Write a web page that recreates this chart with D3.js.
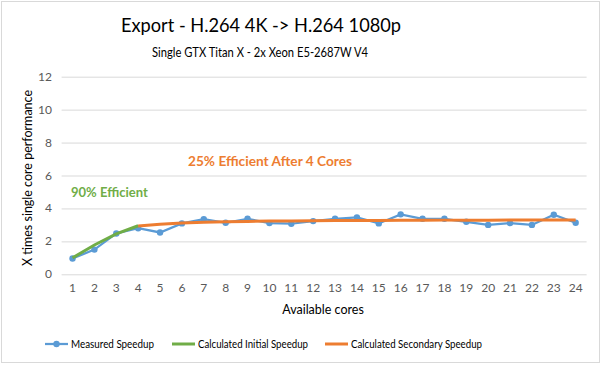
<!DOCTYPE html>
<html>
<head>
<meta charset="utf-8">
<script src="https://cdn.jsdelivr.net/npm/d3@7"></script>
<style>
  body { margin: 0; background: #fff; }
  text { font-family: Lato, "Open Sans", sans-serif; }
</style>
</head>
<body>
<div id="chart"></div>
<script>
const cores = d3.range(1, 25)
const measured = [0.96, 1.5, 2.48, 2.8, 2.54, 3.09, 3.35, 3.13, 3.37, 3.11, 3.07, 3.23,
                  3.37, 3.46, 3.09, 3.64, 3.37, 3.37, 3.19, 3.0, 3.11, 3.0, 3.62, 3.13]
const initialCores = [1, 2, 3, 4]
const initial = [1.0, 1.78, 2.45, 2.95]
const secondaryCores = d3.range(4, 25)
const secondary = [2.93, 3.04, 3.11, 3.16, 3.19, 3.21, 3.23, 3.24, 3.25, 3.26, 3.27, 3.27,
                   3.28, 3.28, 3.29, 3.29, 3.29, 3.3, 3.3, 3.3, 3.3]
const yTicks = [0, 2, 4, 6, 8, 10, 12]

const width = 602
const height = 365

const svg = d3.select('#chart')
  .append('svg')
    .attr('width', width)
    .attr('height', height)

svg.append('rect')
  .attr('x', 1.5).attr('y', 1.5)
  .attr('width', width - 4).attr('height', height - 4)
  .attr('fill', '#fff')
  .attr('stroke', '#d9d9d9')

const xScale = d3.scaleBand()
  .domain(cores)
  .range([61.6, 586.6])

const xc = d => xScale(d) + xScale.bandwidth() / 2

const yScale = d3.scaleLinear()
  .domain([0, 12])
  .range([274.3, 76.7])

// grid
svg.append('g')
  .attr('transform', 'translate(61.6,0)')
  .call(d3.axisLeft(yScale).tickValues(yTicks).tickSize(-525).tickFormat(''))
  .call(g => g.select('.domain').remove())
  .call(g => g.selectAll('line').attr('stroke', '#d9d9d9'))

// y labels
svg.append('g')
  .selectAll('text')
  .data(yTicks)
  .enter()
  .append('text')
    .attr('x', 52)
    .attr('y', d => yScale(d) + 4)
    .attr('text-anchor', 'end')
    .attr('font-size', 12)
    .attr('fill', '#595959')
    .text(d => d)

// x labels
svg.append('g')
  .selectAll('text')
  .data(cores)
  .enter()
  .append('text')
    .attr('x', d => xc(d))
    .attr('y', 292)
    .attr('text-anchor', 'middle')
    .attr('font-size', 12)
    .attr('fill', '#595959')
    .text(d => d)

const line = d3.line()
  .x(d => xc(d[0]))
  .y(d => yScale(d[1]))

svg.append('path')
  .datum(cores.map((c, i) => [c, measured[i]]))
  .attr('d', line)
  .attr('fill', 'none')
  .attr('stroke', '#5b9bd5')
  .attr('stroke-width', 2.25)

svg.append('g')
  .selectAll('circle')
  .data(cores)
  .enter()
  .append('circle')
    .attr('cx', d => xc(d))
    .attr('cy', (d, i) => yScale(measured[i]))
    .attr('r', 3.2)
    .attr('fill', '#5b9bd5')

svg.append('path')
  .datum(initialCores.map((c, i) => [c, initial[i]]))
  .attr('d', line)
  .attr('fill', 'none')
  .attr('stroke', '#70ad47')
  .attr('stroke-width', 3)

svg.append('path')
  .datum(secondaryCores.map((c, i) => [c, secondary[i]]))
  .attr('d', line)
  .attr('fill', 'none')
  .attr('stroke', '#ed7d31')
  .attr('stroke-width', 3)

// titles
svg.append('text')
  .attr('x', 121).attr('y', 32)
  .attr('font-size', 19.5)
  .attr('textLength', 280)
  .attr('lengthAdjust', 'spacingAndGlyphs')
  .attr('fill', '#000')
  .text('Export - H.264 4K -> H.264 1080p')

svg.append('text')
  .attr('x', 152).attr('y', 57)
  .attr('font-size', 12.5)
  .attr('textLength', 216)
  .attr('lengthAdjust', 'spacingAndGlyphs')
  .attr('fill', '#000')
  .text('Single GTX Titan X - 2x Xeon E5-2687W  V4')

svg.append('text')
  .attr('x', 323).attr('y', 314)
  .attr('text-anchor', 'middle')
  .attr('font-size', 12.5)
  .attr('fill', '#000')
  .text('Available cores')

svg.append('text')
  .attr('transform', 'translate(32,178) rotate(-90)')
  .attr('text-anchor', 'middle')
  .attr('font-size', 12.5)
  .attr('fill', '#000')
  .text('X times single core performance')

svg.append('text')
  .attr('x', 71).attr('y', 197)
  .attr('font-size', 13)
  .attr('font-weight', 'bold')
  .attr('fill', '#70ad47')
  .text('90% Efficient')

svg.append('text')
  .attr('x', 188).attr('y', 166)
  .attr('font-size', 13)
  .attr('font-weight', 'bold')
  .attr('textLength', 164)
  .attr('lengthAdjust', 'spacingAndGlyphs')
  .attr('fill', '#ed7d31')
  .text('25% Efficient After 4 Cores')

// legend
const legend = [
  { name: 'Measured Speedup', color: '#5b9bd5', x: 45, len: 83, marker: true },
  { name: 'Calculated Initial Speedup', color: '#70ad47', x: 172, len: 110, marker: false },
  { name: 'Calculated Secondary Speedup', color: '#ed7d31', x: 325, len: 131, marker: false }
]

const lg = svg.append('g')
  .selectAll('g')
  .data(legend)
  .enter()
  .append('g')
    .attr('transform', d => 'translate(' + d.x + ',344)')

lg.append('line')
  .attr('x1', 0).attr('x2', 23)
  .attr('stroke', d => d.color)
  .attr('stroke-width', d => d.marker ? 2.25 : 3)

lg.filter(d => d.marker)
  .append('circle')
  .attr('cx', 11.5).attr('r', 3.2)
  .attr('fill', d => d.color)

lg.append('text')
  .attr('x', 26).attr('y', 4)
  .attr('font-size', 11)
  .attr('textLength', d => d.len)
  .attr('lengthAdjust', 'spacingAndGlyphs')
  .attr('fill', '#000')
  .text(d => d.name)
</script>
</body>
</html>
